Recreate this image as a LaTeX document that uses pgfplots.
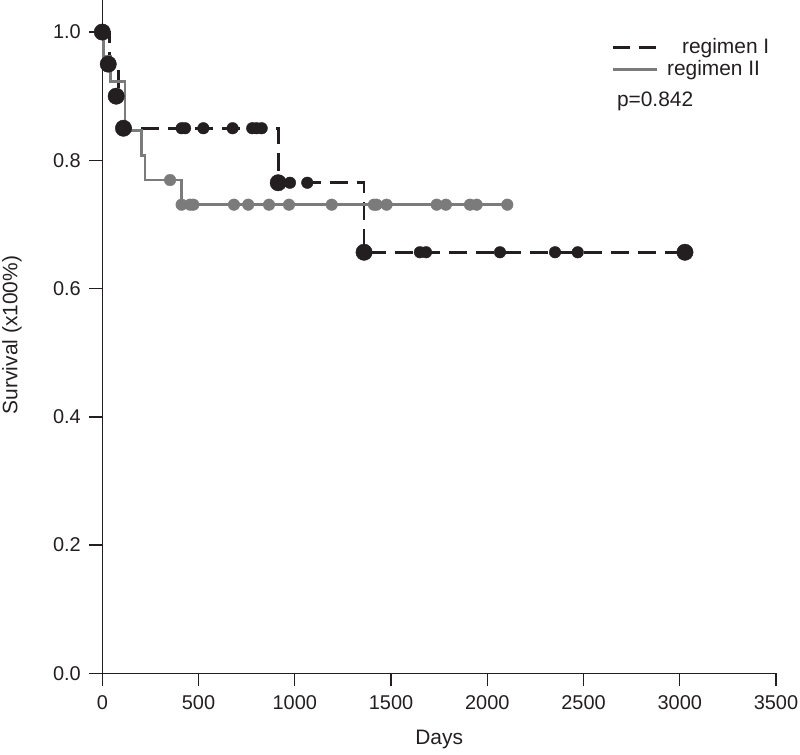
\documentclass[border=0pt]{standalone}
\usepackage{fontspec}
\setmainfont{Liberation Sans}
\usepackage{pgfplots}
\pgfplotsset{compat=1.18}
\definecolor{kmblack}{HTML}{231F20}
\definecolor{kmgray}{HTML}{7B7B7B}
\begin{document}
\begin{tikzpicture}
\begin{axis}[
  scale only axis,
  width=673.7bp, height=673.3bp,
  xmin=0, xmax=3500, ymin=0, ymax=1.05,
  clip=false,
  axis x line*=bottom, axis y line*=left,
  axis line style={line width=1.5bp, color=kmblack},
  tick style={line width=1.4bp, color=kmblack},
  tick align=outside,
  major tick length=13bp,
  xtick={0,500,1000,1500,2000,2500,3000,3500},
  ytick={0,0.2,0.4,0.6,0.8,1.0},
  yticklabel style={/pgf/number format/fixed,/pgf/number format/precision=1,/pgf/number format/fixed zerofill, xshift=-5bp},
  xticklabel style={yshift=-6bp},
  /pgf/number format/assume math mode=true,
  scaled x ticks=false,
  xticklabel={\pgfmathprintnumber[1000 sep={}]{\tick}},
  tick label style={font=\fontsize{20}{22}\selectfont, color=kmblack},
  label style={font=\fontsize{21}{24}\selectfont, color=kmblack},
  xlabel={Days},
  ylabel={Survival (x100\%)},
  xlabel style={at={(axis description cs:0.5,-0.099)}, anchor=center},
  ylabel style={at={(axis description cs:-0.134,0.5025)}, anchor=center, rotate=0},
]
% regimen I line
\addplot[const plot, color=kmblack, line width=2.8bp, dash pattern=on 18bp off 9bp] coordinates {
(0,1.0) (36,0.95) (83,0.90) (118,0.85) (914,0.765) (1360,0.6566) (3027,0.6566)};
% regimen I events (large)
\addplot[only marks, mark=*, mark size=8.2bp, color=kmblack, mark options={fill=kmblack, draw=kmblack}] coordinates {
(0,1.0) (31,0.95) (72,0.90) (110,0.85) (914,0.765) (1360,0.6566) (3027,0.6566)};
% regimen I censored (small)
\addplot[only marks, mark=*, mark size=5.8bp, color=kmblack, mark options={fill=kmblack, draw=kmblack}] coordinates {
(412,0.85) (430,0.85) (525,0.85) (677,0.85) (779,0.85) (802,0.85) (828,0.85)
(975,0.765) (1065,0.765)
(1650,0.6566) (1682,0.6566) (2066,0.6566) (2352,0.6566) (2470,0.6566)};
% regimen II line
\addplot[const plot, color=kmgray, line width=2.8bp] coordinates {
(0,1.0) (5,0.9615) (44,0.9231) (118,0.8462) (205,0.8077) (222,0.7692) (412,0.7308) (2104,0.7308)};
% regimen II censored
\addplot[only marks, mark=*, mark size=5.8bp, color=kmgray, mark options={fill=kmgray, draw=kmgray}] coordinates {
(352,0.7692)
(412,0.7308) (456,0.7308) (473,0.7308) (684,0.7308) (758,0.7308) (866,0.7308) (970,0.7308)
(1192,0.7308) (1411,0.7308) (1425,0.7308) (1477,0.7308) (1737,0.7308) (1785,0.7308)
(1910,0.7308) (1945,0.7308) (2104,0.7308)};
% legend
\draw[color=kmblack, line width=2.8bp, dash pattern=on 17bp off 9bp] (axis cs:2653,0.9755) -- (axis cs:2882,0.9755);
\draw[color=kmgray, line width=2.8bp] (axis cs:2653,0.941) -- (axis cs:2882,0.941);
\node[anchor=west, inner sep=0pt, font=\fontsize{21}{24}\selectfont, color=kmblack] at (axis cs:3011,0.9755) {regimen I};
\node[anchor=west, inner sep=0pt, font=\fontsize{21}{24}\selectfont, color=kmblack] at (axis cs:2933,0.941) {regimen II};
\node[anchor=west, inner sep=0pt, font=\fontsize{21}{24}\selectfont, color=kmblack] at (axis cs:2673,0.892) {p=0.842};
\end{axis}
\pgfresetboundingbox
\path (-102.3bp,-81.7bp) rectangle (697.7bp,673.3bp);
\end{tikzpicture}
\end{document}
